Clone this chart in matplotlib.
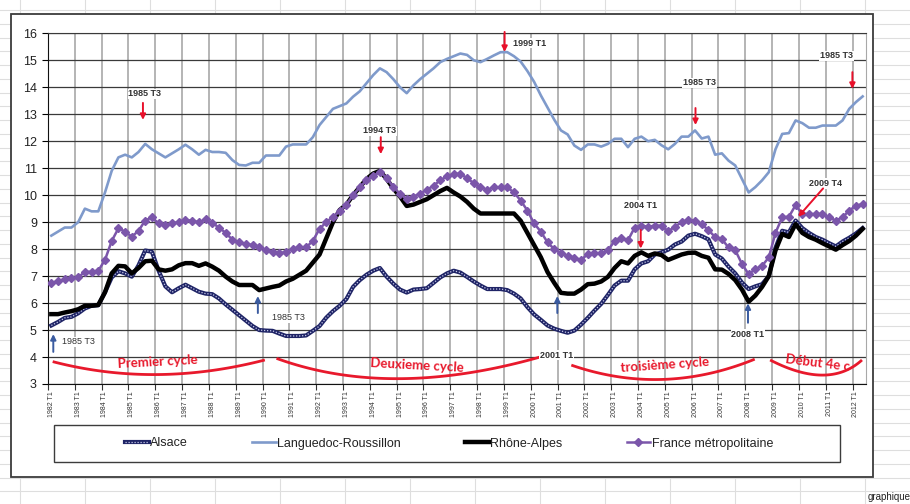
import numpy as np
import matplotlib
matplotlib.use("Agg")
import matplotlib.pyplot as plt
from matplotlib.patches import Rectangle
from matplotlib.lines import Line2D
from matplotlib import font_manager

# ---------------- data (quarterly, 1982 T1 .. 2012 T2) ----------------
alsace = [
    5.17, 5.3, 5.45, 5.49, 5.62, 5.8, 5.9, 5.92, 6.4, 6.95,
    7.18, 7.1, 6.98, 7.4, 7.95, 7.9, 7.2, 6.62, 6.4, 6.55,
    6.68, 6.55, 6.42, 6.35, 6.33, 6.17, 5.95, 5.75, 5.55, 5.35,
    5.15, 5.0, 4.98, 4.97, 4.87, 4.78, 4.78, 4.78, 4.8, 4.97,
    5.15, 5.46, 5.7, 5.9, 6.15, 6.6, 6.85, 7.05, 7.2, 7.3,
    6.98, 6.72, 6.5, 6.39, 6.5, 6.52, 6.55, 6.75, 6.95, 7.1,
    7.2, 7.13, 6.97, 6.8, 6.65, 6.52, 6.52, 6.52, 6.48, 6.35,
    6.17, 5.85, 5.58, 5.38, 5.17, 5.05, 4.97, 4.9, 4.98, 5.2,
    5.45, 5.72, 5.97, 6.3, 6.65, 6.83, 6.83, 7.25, 7.47, 7.55,
    7.8, 7.88, 7.98, 8.17, 8.28, 8.5, 8.57, 8.48, 8.36, 7.8,
    7.65, 7.35, 7.1, 6.76, 6.52, 6.62, 6.7, 7.0, 8.05, 8.68,
    8.62, 9.06, 8.78, 8.6, 8.45, 8.35, 8.22, 8.1, 8.28, 8.42,
    8.58, 8.78,
]
languedoc = [
    8.5, 8.65, 8.8, 8.8, 9.0, 9.5, 9.4, 9.4, 10.1, 10.9,
    11.4, 11.5, 11.4, 11.6, 11.9, 11.7, 11.55, 11.4, 11.55, 11.7,
    11.87, 11.7, 11.5, 11.68, 11.6, 11.6, 11.57, 11.3, 11.12, 11.1,
    11.2, 11.2, 11.47, 11.47, 11.47, 11.8, 11.88, 11.88, 11.88, 12.15,
    12.6, 12.9, 13.2, 13.3, 13.4, 13.65, 13.85, 14.15, 14.45, 14.7,
    14.56, 14.3, 14.0, 13.78, 14.07, 14.3, 14.5, 14.7, 14.93, 15.05,
    15.15, 15.25, 15.2, 15.0, 14.93, 15.05, 15.18, 15.3, 15.3, 15.15,
    14.95, 14.6, 14.2, 13.7, 13.25, 12.8, 12.4, 12.25, 11.84, 11.68,
    11.88, 11.88, 11.8, 11.9, 12.09, 12.09, 11.78, 12.09, 12.17, 12.0,
    12.05, 11.85, 11.7, 11.9, 12.17, 12.17, 12.4, 12.1, 12.17, 11.5,
    11.55, 11.28, 11.1, 10.6, 10.1, 10.3, 10.55, 10.85, 11.7, 12.27,
    12.3, 12.77, 12.67, 12.5, 12.5, 12.58, 12.58, 12.58, 12.77, 13.2,
    13.45, 13.66,
]
rhone_alpes = [
    5.59, 5.59, 5.65, 5.7, 5.77, 5.9, 5.9, 5.93, 6.4, 7.1,
    7.38, 7.36, 7.1, 7.3, 7.55, 7.57, 7.25, 7.2, 7.25, 7.4,
    7.48, 7.48, 7.38, 7.47, 7.35, 7.2, 6.98, 6.8, 6.67, 6.67,
    6.67, 6.48, 6.54, 6.6, 6.65, 6.8, 6.9, 7.05, 7.2, 7.5,
    7.8, 8.4, 9.0, 9.45, 9.65, 10.0, 10.3, 10.6, 10.8, 10.9,
    10.6, 10.25, 9.95, 9.6, 9.65, 9.75, 9.85, 10.0, 10.15, 10.27,
    10.1, 9.95, 9.75, 9.5, 9.32, 9.32, 9.32, 9.32, 9.32, 9.32,
    9.05, 8.6, 8.15, 7.7, 7.15, 6.75, 6.38, 6.35, 6.35, 6.5,
    6.7, 6.72, 6.8, 6.97, 7.3, 7.55, 7.47, 7.75, 7.88, 7.75,
    7.84, 7.78, 7.6, 7.7, 7.8, 7.86, 7.87, 7.75, 7.68, 7.25,
    7.24, 7.08, 6.85, 6.5, 6.05, 6.28, 6.6, 7.0, 7.95, 8.56,
    8.45, 8.93, 8.6, 8.45, 8.35, 8.22, 8.1, 7.98, 8.15, 8.3,
    8.5, 8.75,
]
france = [
    6.76, 6.8, 6.89, 6.92, 6.95, 7.16, 7.16, 7.2, 7.6, 8.3,
    8.77, 8.65, 8.46, 8.68, 9.06, 9.18, 8.95, 8.9, 8.95, 9.0,
    9.08, 9.05, 9.0, 9.1, 8.97, 8.8, 8.6, 8.35, 8.25, 8.19,
    8.15, 8.08, 7.98, 7.9, 7.86, 7.88, 8.02, 8.06, 8.06, 8.31,
    8.75, 9.0, 9.2, 9.4, 9.65, 10.0, 10.3, 10.55, 10.72, 10.85,
    10.65, 10.3, 10.05, 9.86, 9.95, 10.05, 10.2, 10.35, 10.55, 10.7,
    10.78, 10.8, 10.62, 10.45, 10.3, 10.2, 10.29, 10.29, 10.29, 10.1,
    9.8, 9.43, 8.95, 8.65, 8.25, 8.0, 7.85, 7.76, 7.68, 7.59,
    7.82, 7.84, 7.84, 7.95, 8.3, 8.4, 8.33, 8.8, 8.87, 8.83,
    8.87, 8.87, 8.66, 8.83, 9.0, 9.08, 9.06, 8.93, 8.7, 8.45,
    8.37, 8.06, 7.96, 7.45, 7.07, 7.26, 7.38, 7.69, 8.6, 9.18,
    9.2, 9.63, 9.3, 9.3, 9.3, 9.3, 9.18, 9.06, 9.18, 9.43,
    9.61, 9.67,
]
years = list(range(1982, 2013))
tick_labels = [f"{y} T1" for y in years]
series_names = ["Alsace", "Languedoc-Roussillon", "Rhône-Alpes", "France métropolitaine"]

# annotations: (text, text_x, text_y, arrow tail, arrow head, alignment)
red_marks = [
    ("1985 T3", 14.46, 13.75, (14.16, 13.42), (14.16, 12.79), "center"),
    ("1994 T3", 49.48, 12.38, (49.63, 12.15), (49.63, 11.52), "center"),
    ("1999 T1", 69.3, 15.64, (68.1, 16.05), (68.1, 15.31), "left"),
    ("1985 T3", 97.17, 14.16, (96.57, 13.23), (96.57, 12.6), "center"),
    ("1985 T3", 117.6, 15.16, (119.97, 14.56), (119.97, 13.94), "center"),
    ("2004 T1", 88.4, 9.63, (88.4, 8.71), (88.4, 8.02), "center"),
    ("2009 T4", 115.9, 10.44, (115.6, 10.25), (111.9, 9.2), "center"),
]
blue_marks = [
    ("1985 T3", 2.09, 4.56, (0.79, 4.19), (0.79, 4.85), "left", "normal"),
    ("1985 T3", 35.8, 5.45, (31.3, 5.63), (31.3, 6.26), "center", "normal"),
    ("2001 T1", 75.86, 4.07, (75.96, 5.63), (75.96, 6.26), "center", "bold"),
    ("2008 T1", 104.4, 4.85, (104.4, 5.27), (104.4, 5.99), "center", "bold"),
]
cycles = [
    ("Premier cycle", (0.70, 3.83), (16.24, 3.35), (32.34, 3.89), (16.4, 3.82), 3),
    ("Deuxieme cycle", (34.08, 3.95), (53.2, 3.20), (75.3, 4.14), (55.1, 3.67), -3),
    ("troisième cycle", (78.05, 3.70), (91.7, 3.17), (105.4, 3.92), (91.95, 3.70), 4),
    ("Début 4e c", (107.7, 3.89), (115.5, 3.33), (121.4, 3.89), (114.8, 3.77), -7),
]

# ---------------- fonts ----------------
plt.rcParams["font.family"] = ["Liberation Sans", "DejaVu Sans"]
names = {f.name for f in font_manager.fontManager.ttflist}
narrow = "Liberation Sans Narrow" if "Liberation Sans Narrow" in names else "Liberation Sans"
leg_size = 10 if narrow == "Liberation Sans Narrow" else 9
cyc_font = "Lato" if "Lato" in names else "Liberation Sans"

W, H = 910, 504
fig = plt.figure(figsize=(W / 100, H / 100), dpi=100)
fig.patch.set_facecolor("white")

def fx(px):
    return px / W

def fy(py):
    return 1 - py / H

# spreadsheet cells behind the chart
for k in range(37):
    yy = 10 + 13.75 * k
    fig.add_artist(Line2D([0, 1], [fy(yy), fy(yy)], color="#dedede", lw=0.8, zorder=-10))
for k in range(15):
    xx = 20 + 65 * k
    fig.add_artist(Line2D([fx(xx), fx(xx)], [0, 1], color="#dedede", lw=0.8, zorder=-10))
# chart frame
fig.add_artist(Rectangle((fx(11), fy(477)), fx(873) - fx(11), (477 - 14) / H,
                         facecolor="white", edgecolor="#3c3c3c", lw=1.3, zorder=-5))
fig.text(fx(868), fy(497), "graphique", fontsize=7, ha="left", va="center", color="#222222")

ax = fig.add_axes([48 / W, 1 - 384 / H, (866 - 48) / W, (384 - 33.3) / H])
ax.set_facecolor("white")
ax.set_xlim(0, 122)
ax.set_ylim(3, 16)

x = np.arange(len(alsace)) + 0.5

ax.set_yticks(range(3, 17))
ax.yaxis.grid(True, color="#3a3a3a", lw=0.9)
major_x = np.arange(0, 121, 4)
ax.set_xticks(major_x)
ax.set_xticklabels([])
ax.xaxis.grid(True, which="major", color="#a8a8a8", lw=1.2)
ax.set_xticks(major_x + 0.5, minor=True)
ax.set_xticklabels(tick_labels, minor=True, rotation=90, fontsize=5, color="#333333")
ax.tick_params(axis="x", which="minor", length=0, pad=5)
ax.tick_params(axis="x", which="major", length=4, direction="out", color="#333333")
ax.tick_params(axis="y", length=4, direction="out", labelsize=9, labelcolor="#222222", pad=4)
ax.set_axisbelow(True)
for s in ("left", "bottom"):
    ax.spines[s].set_color("#111111")
ax.spines["top"].set_color("#3a3a3a")
ax.spines["right"].set_color("#a8a8a8")

# series
l_al, = ax.plot(x, alsace, color="#1f2466", lw=3.0, zorder=3, solid_joinstyle="round")
l_al2, = ax.plot(x, alsace, color="#c6c9ea", lw=0.9, ls=(0, (1, 1.4)), zorder=3.1)
l_lr, = ax.plot(x, languedoc, color="#7f9acb", lw=1.9, zorder=4)
l_ra, = ax.plot(x, rhone_alpes, color="black", lw=3.2, zorder=5)
l_fr, = ax.plot(x, france, color="#7b56aa", lw=1.8, marker="D", ms=3.7,
                mec="#7b56aa", mfc="#7b56aa", zorder=6)

# red annotations
for txt, tx, ty, tail, head, ha in red_marks:
    ax.text(tx, ty, txt, fontsize=6.5, fontweight="bold", ha=ha, va="center", color="#333333",
            zorder=8, bbox=dict(facecolor="white", edgecolor="none", pad=0.6))
    ax.annotate("", xy=head, xytext=tail, annotation_clip=False, zorder=9,
                arrowprops=dict(arrowstyle="-|>", color="#e8102a", lw=1.4,
                                mutation_scale=8, shrinkA=0, shrinkB=0))
for txt, tx, ty, tail, head, ha, fw in blue_marks:
    ax.text(tx, ty, txt, fontsize=6.5, fontweight=fw, ha=ha, va="center", color="#333333",
            zorder=8, bbox=dict(facecolor="white", edgecolor="none", pad=0.6))
    ax.annotate("", xy=head, xytext=tail, annotation_clip=False, zorder=9,
                arrowprops=dict(arrowstyle="-|>", color="#3a5ba0", lw=1.4,
                                mutation_scale=8, shrinkA=0, shrinkB=0))

# cycle arcs
t = np.linspace(0, 1, 60)
for txt, p0, pm, p2, tp, rot in cycles:
    p0 = np.array(p0); pm = np.array(pm); p2 = np.array(p2)
    c = 2 * pm - (p0 + p2) / 2
    pts = ((1 - t) ** 2)[:, None] * p0 + (2 * (1 - t) * t)[:, None] * c + (t ** 2)[:, None] * p2
    ax.plot(pts[:, 0], pts[:, 1], color="#e8192c", lw=2.0, zorder=7, solid_capstyle="butt")
    ax.text(tp[0], tp[1], txt, fontsize=9.5, fontweight="bold", color="#e8192c",
            family=[cyc_font, "DejaVu Sans"], ha="center", va="center", rotation=rot, zorder=8)

# legend
fig.add_artist(Rectangle((fx(54), fy(462)), fx(840) - fx(54), (462 - 425) / H,
                         facecolor="white", edgecolor="#3c3c3c", lw=1.0, zorder=1))
leg = fig.legend([(l_al, l_al2), l_lr, l_ra, l_fr], series_names,
                 loc="center", bbox_to_anchor=(fx(125), fy(462), fx(773) - fx(125), (462 - 425) / H),
                 mode="expand", ncol=4, frameon=False, handlelength=1.9, handletextpad=0.1,
                 borderpad=0, borderaxespad=0, numpoints=1,
                 prop={"family": [narrow, "DejaVu Sans"], "size": leg_size})
leg.set_zorder(2)
for tx_ in leg.get_texts():
    tx_.set_color("#222222")

fig.savefig("out.png", dpi=100, facecolor="white")
